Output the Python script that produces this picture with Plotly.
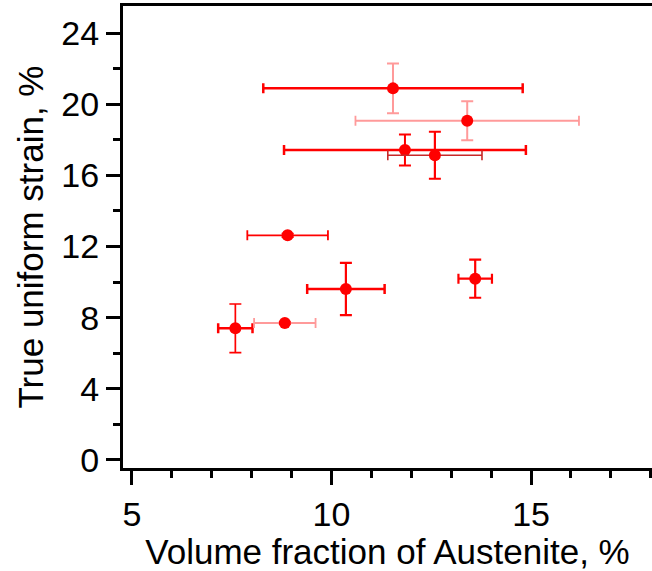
import plotly.graph_objects as go

# Data
austenite = [11.54, 13.40, 11.84, 12.59, 8.90, 13.60, 10.36, 7.59, 8.83]
strain = [20.89, 19.07, 17.43, 17.13, 12.63, 10.19, 9.61, 7.40, 7.70]
austenite_err = [3.25, 2.80, 3.03, 1.18, 1.01, 0.42, 0.97, 0.43, 0.77]
strain_err = [1.40, 1.10, 0.87, 1.32, 0.10, 1.07, 1.47, 1.37, 0.05]

x_ticks = [5, 10, 15]
y_ticks = [0, 4, 8, 12, 16, 20, 24]

# Styles of error bars (per point)
RED = "#ff0000"
PINK = "#ff9a9a"
DARK = "#c82828"
xerr_colors = [RED, PINK, RED, DARK, RED, RED, RED, RED, PINK]
yerr_colors = [PINK, PINK, RED, RED, RED, RED, RED, RED, RED]
xerr_thick = [2.5, 1.8, 2.5, 1.6, 1.8, 2.2, 2.5, 2.5, 1.8]
yerr_thick = [2.0, 2.0, 2.0, 2.2, 1.6, 2.2, 2.2, 1.7, 1.6]

FONT = "Arial, Liberation Sans, sans-serif"

fig = go.Figure()
for i in range(len(austenite)):
    fig.add_trace(go.Scatter(
        x=[austenite[i]], y=[strain[i]],
        mode="markers",
        marker=dict(color=RED, size=12, line=dict(width=0)),
        error_x=dict(type="data", array=[austenite_err[i]], color=xerr_colors[i],
                     thickness=xerr_thick[i], width=5),
        error_y=dict(type="data", array=[strain_err[i]], color=yerr_colors[i],
                     thickness=yerr_thick[i], width=6),
        showlegend=False,
    ))

fig.update_layout(
    width=652, height=571,
    margin=dict(l=123, r=0, t=6, b=103),
    paper_bgcolor="white", plot_bgcolor="white",
    font=dict(family=FONT, size=35, color="black"),
    xaxis=dict(
        range=[4.775, 18.03], tickvals=x_ticks, ticktext=[str(v) for v in x_ticks],
        ticks="outside", ticklen=14, tickwidth=3, tickcolor="black",
        minor=dict(dtick=1, tick0=5, ticks="outside", ticklen=7, tickwidth=3, tickcolor="black"),
        showline=True, linewidth=3, linecolor="black", mirror=True,
        showgrid=False, zeroline=False,
        tickfont=dict(size=34),
        title=dict(text="Volume fraction of Austenite, %", font=dict(size=35), standoff=0),
    ),
    yaxis=dict(
        range=[-0.45, 25.52], tickvals=y_ticks, ticktext=[str(v) for v in y_ticks],
        ticks="outside", ticklen=14, tickwidth=3, tickcolor="black",
        minor=dict(dtick=2, tick0=0, ticks="outside", ticklen=7, tickwidth=3, tickcolor="black"),
        showline=True, linewidth=3, linecolor="black", mirror=False,
        showgrid=False, zeroline=False,
        tickfont=dict(size=34),
        title=dict(text="True uniform strain, %", font=dict(size=35), standoff=8),
    ),
)

fig.write_html("out.html")
